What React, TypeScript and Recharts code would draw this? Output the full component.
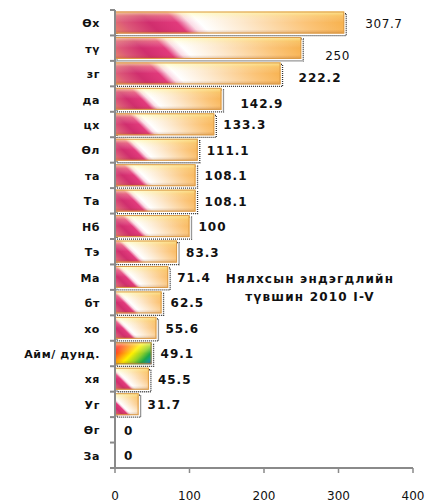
import React from 'react';
import { BarChart, Bar, XAxis, YAxis, LabelList, Customized } from 'recharts';

const categories = ['Өх', 'тү', 'зг', 'да', 'цх', 'Өл', 'та', 'Та', 'Нб', 'Тэ', 'Ма', 'бт', 'хо', 'Айм/ дунд.', 'хя', 'Уг', 'Өг', 'За'];
const values = [307.7, 250, 222.2, 142.9, 133.3, 111.1, 108.1, 108.1, 100, 83.3, 71.4, 62.5, 55.6, 49.1, 45.5, 31.7, 0, 0];
const xTicks = [0, 100, 200, 300, 400];
const highlightCategory = 'Айм/ дунд.';
const annotationLines = ['Нялхсын эндэгдлийн', 'түвшин 2010 I-V'];

const data = categories.map((name, i) => ({ name, value: values[i] }));

const W = 425;
const H = 502;
const MARGIN = { top: 10, right: 12, left: 0, bottom: 0 };
const YAXIS_W = 115;
const XAXIS_H = 34;
const BAND = (H - MARGIN.top - MARGIN.bottom - XAXIS_H) / categories.length;
const FONT = '"DejaVu Sans", Verdana, sans-serif';
const AXIS_COLOR = '#8a8a8a';

// label style nudges (style only)
const labelStyle: Record<number, { dx: number; dy: number; weight: string }> = {
  0: { dx: 21, dy: 0, weight: 'normal' },
  1: { dx: 24, dy: 7, weight: 'normal' },
  2: { dx: 18, dy: 4, weight: 'bold' },
  3: { dx: 19, dy: 4, weight: 'bold' },
};

const GradBar = (props: any) => {
  const { x, y, width, height, index, payload } = props;
  if (!width || width <= 0) return null;
  const id = `bg${index}`;
  const rainbow = payload && payload.name === highlightCategory;
  const s = (width + height) / 2;
  return (
    <g>
      <rect x={x + 2} y={y + 2} width={width} height={height} fill="none" stroke="#333" strokeWidth={1.3} strokeDasharray="1 1" />
      <defs>
        {rainbow ? (
          <linearGradient id={id} gradientUnits="userSpaceOnUse" x1={x} y1={y} x2={x + s} y2={y + s}>
            <stop offset="0" stopColor="#ff1e3a" />
            <stop offset="0.15" stopColor="#ff2a20" />
            <stop offset="0.32" stopColor="#ff9010" />
            <stop offset="0.48" stopColor="#fff000" />
            <stop offset="0.66" stopColor="#8fd02a" />
            <stop offset="0.8" stopColor="#1aa84a" />
            <stop offset="0.9" stopColor="#13989a" />
            <stop offset="1" stopColor="#2050c0" />
          </linearGradient>
        ) : (
          <linearGradient id={id} gradientUnits="userSpaceOnUse" x1={x} y1={y + height} x2={x + s} y2={y + height - s}>
            <stop offset="0" stopColor="#e8866a" />
            <stop offset="0.08" stopColor="#dc5878" />
            <stop offset="0.18" stopColor="#d02e6e" />
            <stop offset="0.29" stopColor="#e23a7c" />
            <stop offset="0.34" stopColor="#fbdbe6" />
            <stop offset="0.38" stopColor="#ffffff" />
            <stop offset="0.55" stopColor="#fde8cc" />
            <stop offset="0.8" stopColor="#fbc478" />
            <stop offset="1" stopColor="#f6ac42" />
          </linearGradient>
        )}
        <linearGradient id={id + 'h'} x1="0" y1="0" x2="0" y2="1">
          <stop offset="0" stopColor="#fffcb0" stopOpacity={0.75} />
          <stop offset="0.2" stopColor="#fffcb0" stopOpacity={0.25} />
          <stop offset="0.5" stopColor="#ffffff" stopOpacity={0} />
          <stop offset="0.82" stopColor="#a05010" stopOpacity={0} />
          <stop offset="1" stopColor="#a05010" stopOpacity={0.3} />
        </linearGradient>
      </defs>
      <rect x={x} y={y} width={width} height={height} fill={`url(#${id})`} />
      <rect x={x} y={y} width={width} height={height} fill={`url(#${id}h)`} />
      <rect x={x + 0.5} y={y + 0.5} width={Math.max(width - 1, 0)} height={height - 1} fill="none" stroke={rainbow ? '#b08040' : '#dc9c48'} strokeWidth={1} />
    </g>
  );
};

const ValueLabel = (props: any) => {
  const { x, y, width, height, value, index } = props;
  const st = labelStyle[index] || { dx: 9, dy: 0, weight: 'bold' };
  return (
    <text
      x={x + width + st.dx}
      y={y + height / 2 + st.dy + 1}
      dominantBaseline="central"
      fontFamily={FONT}
      fontSize={12}
      fontWeight={st.weight}
      letterSpacing={st.weight === 'bold' ? 1 : 0.6}
      fill="#111"
    >
      {value}
    </text>
  );
};

const YTick = (props: any) => {
  const { x, y, payload, index } = props;
  const half = BAND / 2;
  return (
    <g>
      <line x1={x + 10} x2={x + 15} y1={y - half} y2={y - half} stroke={AXIS_COLOR} strokeWidth={2} />
      {index === categories.length - 1 && (
        <line x1={x + 10} x2={x + 15} y1={y + half} y2={y + half} stroke={AXIS_COLOR} strokeWidth={2} />
      )}
      <text x={x} y={y + 1} textAnchor="end" dominantBaseline="central" fontFamily={FONT} fontSize={11} fontWeight="bold" letterSpacing={0.6} fill="#111">
        {payload.value}
      </text>
    </g>
  );
};

const Annotation = () => (
  <g>
    {annotationLines.map((line, i) => (
      <text key={i} x={310} y={279 + i * 18} textAnchor="middle" dominantBaseline="central" fontFamily={FONT} fontSize={12} fontWeight="bold" letterSpacing={1.2} fill="#111">
        {line}
      </text>
    ))}
  </g>
);

export default function App() {
  return (
    <div style={{ position: 'absolute', left: 0, top: 0, width: W, height: H, background: '#fff' }}>
      <BarChart width={W} height={H} data={data} layout="vertical" margin={MARGIN} barCategoryGap="6%">
        <XAxis
          type="number"
          domain={[0, 400]}
          ticks={xTicks}
          height={XAXIS_H}
          tickSize={5}
          tickMargin={18}
          stroke={AXIS_COLOR}
          axisLine={{ stroke: AXIS_COLOR, strokeWidth: 2 }}
          tickLine={{ stroke: AXIS_COLOR, strokeWidth: 1.5 }}
          tick={{ fontSize: 12, fill: '#111', fontFamily: FONT }}
          allowDataOverflow
        />
        <YAxis
          type="category"
          dataKey="name"
          width={YAXIS_W}
          tickSize={5}
          tickMargin={10}
          tickLine={false}
          axisLine={{ stroke: AXIS_COLOR, strokeWidth: 2 }}
          tick={<YTick />}
          interval={0}
        />
        <Bar dataKey="value" shape={<GradBar />} isAnimationActive={false}>
          <LabelList dataKey="value" content={<ValueLabel />} />
        </Bar>
        <Customized component={Annotation} />
      </BarChart>
    </div>
  );
}
